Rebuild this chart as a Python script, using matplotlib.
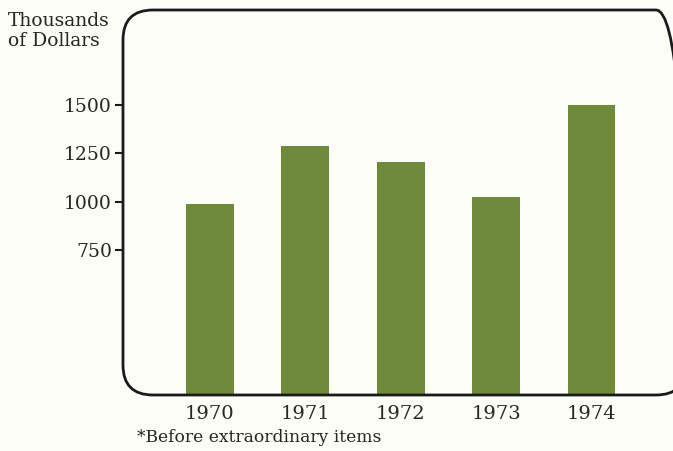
import matplotlib.pyplot as plt
from matplotlib.patches import FancyBboxPatch

years = ["1970", "1971", "1972", "1973", "1974"]
earnings = [985, 1285, 1205, 1025, 1500]  # thousands of dollars
yticks = [750, 1000, 1250, 1500]

bg = "#fdfdf8"
green = "#6f8a3b"
ink = "#262622"

plt.rcParams["font.family"] = ["DejaVu Serif"]

fig = plt.figure(figsize=(6.73, 4.51), dpi=100, facecolor=bg)

# axes box in pixels: left 123, right ~686 (clipped by the page), bottom 395, top 10
W, H = 673, 451
left, right, bottom, top = 123, 686, 395, 10
ax = fig.add_axes([left / W, (H - bottom) / H, (right - left) / W, (bottom - top) / H])
ax.set_facecolor("none")

x = list(range(len(years)))
ax.bar(x, earnings, width=0.5, color=green, zorder=2)

ax.set_xlim(-0.91, 4.99)
ax.set_ylim(0, 1990)

# rounded frame, radius ~30 px
r = 30
wpx, hpx = right - left, bottom - top
frame = FancyBboxPatch((0, 0), 1, 1, boxstyle=f"round,pad=0,rounding_size={r / wpx}",
                       mutation_aspect=wpx / hpx, transform=ax.transAxes,
                       facecolor="none", edgecolor="#1a1a1a", linewidth=2.0,
                       clip_on=False, zorder=3)
ax.add_patch(frame)
for s in ax.spines.values():
    s.set_visible(False)

ax.set_yticks(yticks)
ax.set_yticklabels([str(v) for v in yticks], fontsize=13.5, color=ink)
ax.tick_params(axis="y", length=6, width=1.5, color="#1a1a1a", pad=2)
ax.set_xticks(x)
ax.set_xticklabels(years, fontsize=14, color=ink)
ax.tick_params(axis="x", length=0, pad=7)

fig.text(8 / W, 1 - 31 / H, "Thousands\nof Dollars", fontsize=13.5, color=ink,
         ha="left", va="center", linespacing=1.15)
fig.text(137 / W, 1 - 437 / H, "*Before extraordinary items", fontsize=12.3,
         color=ink, ha="left", va="center")

fig.savefig("out.png", dpi=100, facecolor=bg)
